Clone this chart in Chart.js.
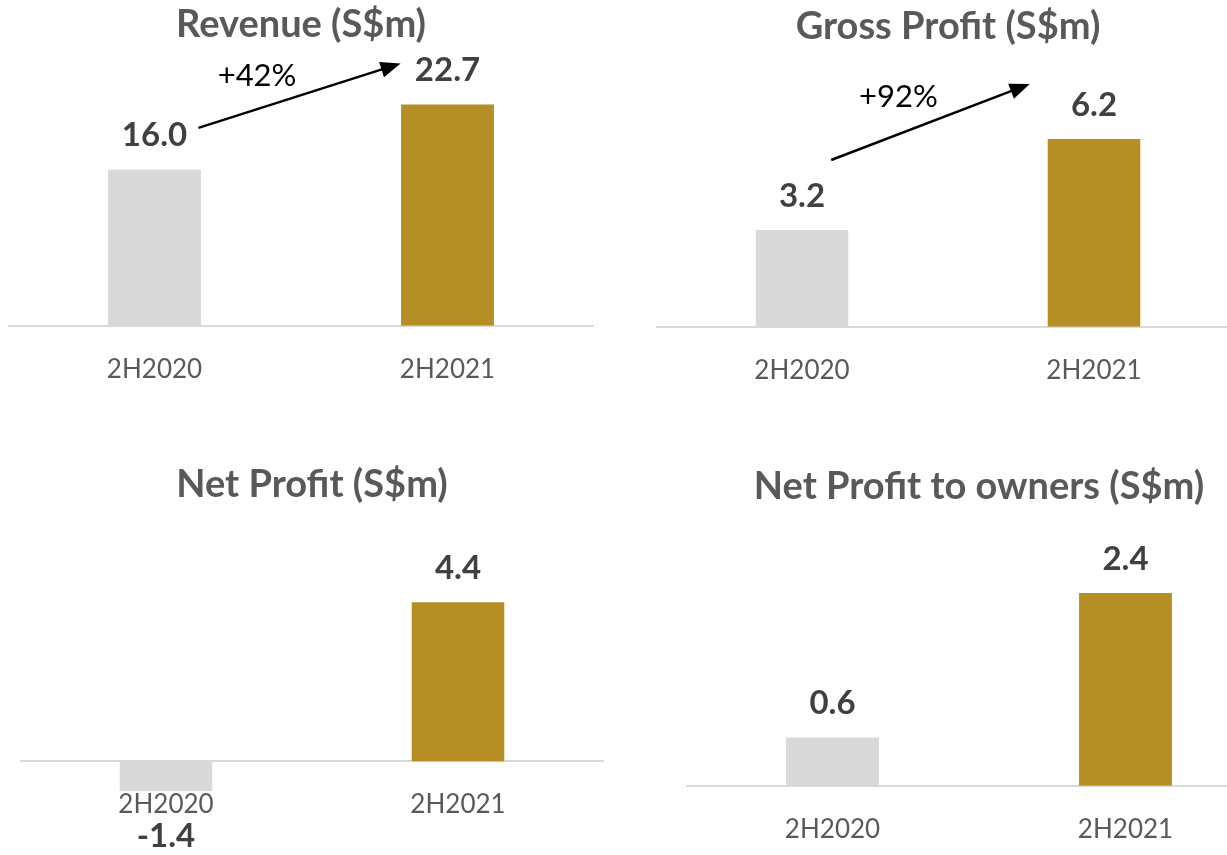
<!DOCTYPE html>
<html>
<head>
<meta charset="utf-8">
<script src="https://cdn.jsdelivr.net/npm/chart.js@4.4.1/dist/chart.umd.min.js"></script>
<style>
  html, body { margin: 0; padding: 0; background: #fff; overflow: hidden; }
  body { width: 1227px; height: 855px; position: relative; }
  canvas { position: absolute; }
</style>
</head>
<body>
<canvas id="revenueChart" width="586" height="413" style="left:8px;top:0px"></canvas>
<canvas id="grossChart" width="584" height="414" style="left:656px;top:0px"></canvas>
<canvas id="netChart" width="584" height="415" style="left:20px;top:440px"></canvas>
<canvas id="ownersChart" width="586" height="433" style="left:686px;top:440px"></canvas>
<script>
const periods = ["2H2020", "2H2021"];
const revenue = [16.0, 22.7];
const grossProfit = [3.2, 6.2];
const netProfit = [-1.4, 4.4];
const netProfitOwners = [0.6, 2.4];
const barColors = ["#d9d9d9", "#b58f24"];

const FONT = "Lato";

// numbers over / under each bar
const valueLabels = {
    id: "valueLabels",
    afterDraw(chart) {
        const ctx = chart.ctx;
        const meta = chart.getDatasetMeta(0);
        const data = chart.data.datasets[0].data;
        ctx.save();
        ctx.font = `bold 33px ${FONT}`;
        ctx.fillStyle = "#404040";
        ctx.textAlign = "center";
        ctx.textBaseline = "middle";
        meta.data.forEach((bar, i) => {
            const v = data[i];
            const y = v >= 0 ? bar.y - 34 : bar.y + 25;
            ctx.fillText(v.toFixed(1), bar.x, y);
        });
        ctx.restore();
    }
};

// growth arrow, given in category index / value units
const growthArrow = {
    id: "growthArrow",
    afterDraw(chart, args, opts) {
        if (!opts || !opts.text) return;
        const { x, y } = chart.scales;
        const ctx = chart.ctx;
        const x1 = x.getPixelForValue(opts.from[0]), y1 = y.getPixelForValue(opts.from[1]);
        const x2 = x.getPixelForValue(opts.to[0]), y2 = y.getPixelForValue(opts.to[1]);
        const ang = Math.atan2(y2 - y1, x2 - x1);
        const head = 20, half = 8;
        ctx.save();
        ctx.strokeStyle = "#000";
        ctx.fillStyle = "#000";
        ctx.lineWidth = 2.5;
        ctx.beginPath();
        ctx.moveTo(x1, y1);
        ctx.lineTo(x2 - Math.cos(ang) * (head - 2), y2 - Math.sin(ang) * (head - 2));
        ctx.stroke();
        ctx.beginPath();
        ctx.moveTo(x2, y2);
        ctx.lineTo(x2 - Math.cos(ang) * head - Math.sin(ang) * half, y2 - Math.sin(ang) * head + Math.cos(ang) * half);
        ctx.lineTo(x2 - Math.cos(ang) * head + Math.sin(ang) * half, y2 - Math.sin(ang) * head - Math.cos(ang) * half);
        ctx.closePath();
        ctx.fill();
        ctx.font = `31px ${FONT}`;
        ctx.textAlign = "center";
        ctx.textBaseline = "middle";
        ctx.fillText(opts.text, x.getPixelForValue(opts.textAt[0]), y.getPixelForValue(opts.textAt[1]));
        ctx.restore();
    }
};

function makeChart(id, title, values, cfg) {
    const ctx = document.getElementById(id).getContext("2d");
    return new Chart(ctx, {
        type: "bar",
        data: {
            labels: periods,
            datasets: [{
                data: values,
                backgroundColor: barColors,
                barPercentage: 0.317,
                categoryPercentage: 1
            }]
        },
        options: {
            responsive: false,
            animation: false,
            layout: { padding: 0 },
            plugins: {
                legend: { display: false },
                tooltip: { enabled: false },
                title: {
                    display: true,
                    text: title,
                    color: "#595959",
                    font: { family: FONT, size: 38, weight: "bold" },
                    padding: { top: cfg.titleTop, bottom: 10 }
                },
                growthArrow: cfg.arrow || {}
            },
            scales: {
                x: {
                    // negative panel: axis sits on the zero line
                    position: cfg.min < 0 ? { y: 0 } : "bottom",
                    grid: { display: false, drawTicks: false },
                    border: { display: true, color: "#d9d9d9", width: 2 },
                    ticks: {
                        z: 1,
                        color: "#595959",
                        font: { family: FONT, size: 26 },
                        padding: 28,
                        showLabelBackdrop: cfg.min < 0,
                        backdropColor: "#ffffff",
                        backdropPadding: { top: -2, bottom: 2, left: 4, right: 4 }
                    }
                },
                y: { display: false, min: cfg.min, max: cfg.max }
            }
        },
        plugins: [valueLabels, growthArrow]
    });
}

makeChart("revenueChart", "Revenue (S$m)", revenue, {
    titleTop: 2.2, min: 0, max: 27.48,
    arrow: { from: [0.15, 20.3], to: [0.84, 26.9], text: "+42%", textAt: [0.35, 25.6] }
});
makeChart("grossChart", "Gross Profit (S$m)", grossProfit, {
    titleTop: 4.2, min: 0, max: 8.82,
    arrow: { from: [0.10, 5.51], to: [0.78, 8.02], text: "+92%", textAt: [0.33, 7.59] }
});
makeChart("netChart", "Net Profit (S$m)", netProfit, {
    titleTop: 22.2, min: -2.6, max: 6.74
});
makeChart("ownersChart", "Net Profit to owners (S$m)", netProfitOwners, {
    titleTop: 24.2, min: 0, max: 3.31
});
</script>
</body>
</html>
